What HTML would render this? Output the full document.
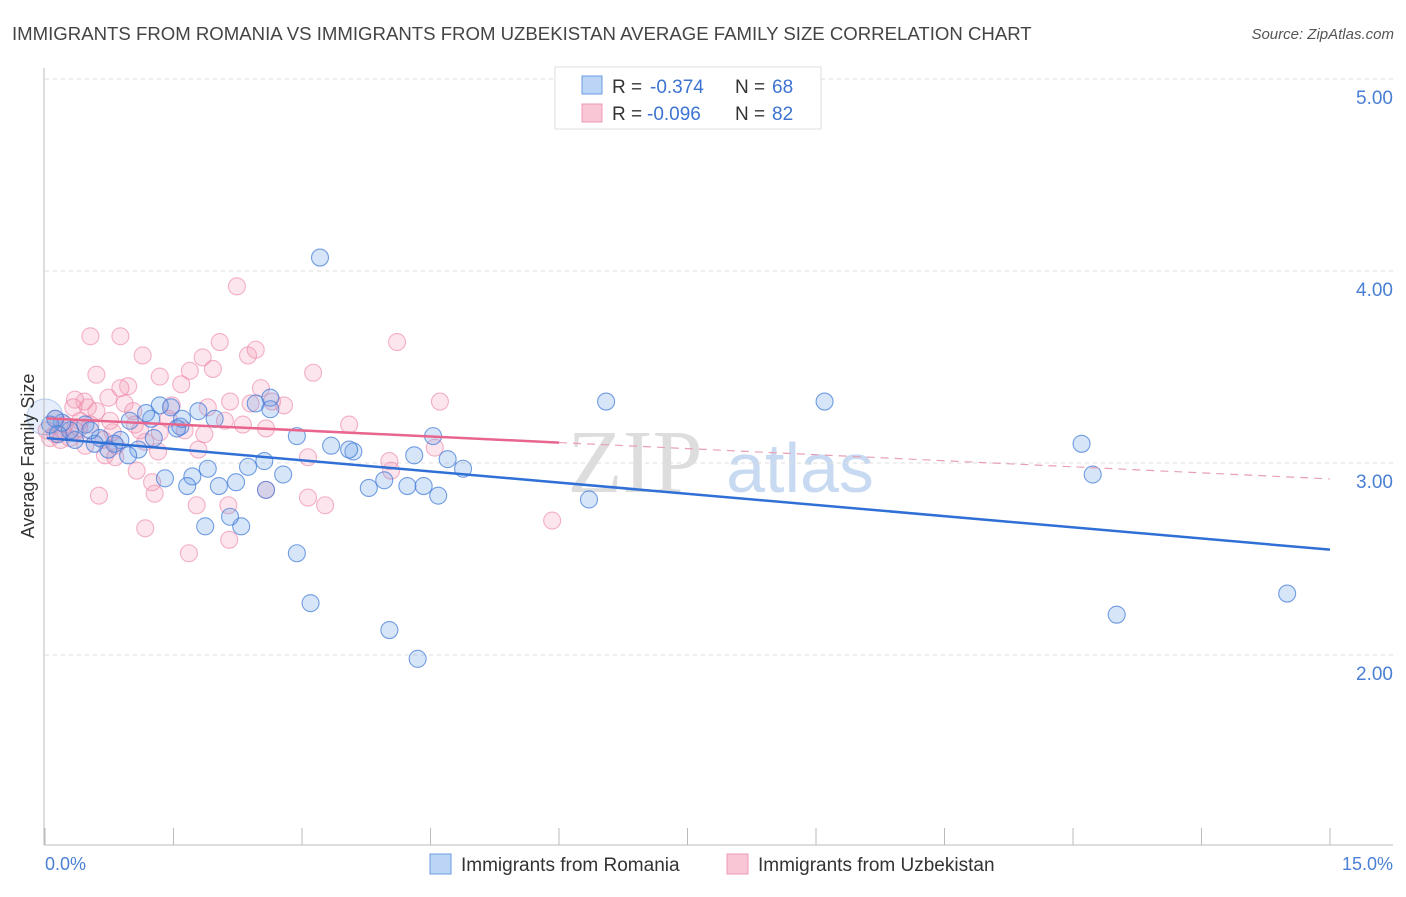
<!DOCTYPE html>
<html><head><meta charset="utf-8"><style>
body{margin:0;background:#fff;font-family:"Liberation Sans",sans-serif}
</style></head><body>
<svg id="c" width="1406" height="892" xmlns="http://www.w3.org/2000/svg">
<text x="12" y="40" font-size="18.6" fill="#444">IMMIGRANTS FROM ROMANIA VS IMMIGRANTS FROM UZBEKISTAN AVERAGE FAMILY SIZE CORRELATION CHART</text>
<text x="1394" y="39" font-size="15" fill="#555" font-style="italic" text-anchor="end">Source: ZipAtlas.com</text>
<text x="635" y="492" font-size="90" fill="#ddd" font-family="Liberation Serif,serif" text-anchor="middle">ZIP</text>
<text x="800" y="492" font-size="70" fill="#c8daf2" text-anchor="middle">atlas</text>
<g id="grid"></g><g id="pts"></g><g id="lines"></g>
<line x1="44" y1="68" x2="44" y2="845" stroke="#bbb"/>
<line x1="44" y1="845" x2="1393" y2="845" stroke="#bbb"/>
<text x="45" y="870" font-size="18" fill="#4a7fd6">0.0%</text>
<text x="1393" y="870" font-size="18" fill="#4a7fd6" text-anchor="end">15.0%</text>
<text transform="translate(34,456) rotate(-90)" font-size="18" fill="#333" text-anchor="middle">Average Family Size</text>
<g>
<rect x="555" y="67" width="266" height="62" fill="#fff" stroke="#ddd"/>
<rect x="582" y="76" width="20" height="18" fill="#bcd4f6" stroke="#6a9be0"/>
<rect x="582" y="104" width="20" height="18" fill="#f9c6d6" stroke="#ee9ab5"/>
<text x="612" y="93" font-size="19" fill="#333">R =</text><text x="650" y="93" font-size="19" fill="#3d74d1">-0.374</text>
<text x="735" y="93" font-size="19" fill="#333">N =</text><text x="772" y="93" font-size="19" fill="#3d74d1">68</text>
<text x="612" y="120" font-size="19" fill="#333">R =</text><text x="647" y="120" font-size="19" fill="#3d74d1">-0.096</text>
<text x="735" y="120" font-size="19" fill="#333">N =</text><text x="772" y="120" font-size="19" fill="#3d74d1">82</text>
</g>
<g><rect x="430" y="854" width="21" height="20" fill="#bcd4f6" stroke="#6a9be0"/><text x="461" y="871" font-size="19" fill="#333">Immigrants from Romania</text></g>
<g><rect x="727" y="854" width="21" height="20" fill="#f9c6d6" stroke="#ee9ab5"/><text x="758" y="871" font-size="19" fill="#333">Immigrants from Uzbekistan</text></g>
</svg>
<script>
const yTicks=[2,3,4,5];
const yTickLabels=["2.00","3.00","4.00","5.00"];
const xTicks=[0,1.5,3,4.5,6,7.5,9,10.5,12,13.5,15];
const romX=[3.21,6.55,9.10,12.10,12.23,14.50,12.51,6.35,4.88,4.70,4.59,4.42,4.23,4.31,4.53,4.02,4.35,3.96,3.78,3.60,3.55,3.34,3.10,2.94,2.94,2.78,2.63,2.58,2.56,2.46,2.37,2.29,2.23,2.16,2.03,1.98,1.90,1.87,1.79,1.72,1.66,1.58,1.54,1.47,1.40,1.34,1.27,1.24,1.18,1.09,0.97,0.88,0.81,0.74,0.64,0.58,0.47,0.35,0.29,0.20,0.12,0.06,0.15,0.53,0.99,1.60,2.63,0.0];
const romY=[4.07,3.32,3.32,3.10,2.94,2.32,2.21,2.81,2.97,3.02,2.83,2.88,2.88,3.04,3.14,2.13,1.98,2.91,2.87,3.06,3.07,3.09,2.27,2.53,3.14,2.94,3.34,2.86,3.01,3.31,2.98,2.67,2.90,2.72,2.88,3.23,2.97,2.67,3.27,2.93,2.88,3.19,3.18,3.29,2.92,3.30,3.13,3.23,3.26,3.07,3.04,3.12,3.10,3.07,3.13,3.10,3.20,3.12,3.17,3.21,3.23,3.20,3.15,3.17,3.22,3.23,3.28,3.24];
const uzbX=[2.24,0.53,0.88,1.14,1.34,1.59,1.84,2.04,1.96,1.69,2.37,2.46,2.52,2.40,2.16,2.79,3.13,4.11,4.61,3.55,4.02,4.04,4.55,5.92,3.07,3.27,2.58,2.15,1.68,1.17,0.63,1.28,1.25,1.07,0.83,0.79,0.68,0.60,0.50,0.46,0.35,0.33,0.41,0.21,0.12,0.06,0.18,0.29,0.47,0.70,0.82,0.93,0.97,1.03,0.74,0.60,1.05,1.17,1.32,1.44,1.48,1.63,1.79,1.86,1.90,2.10,2.31,2.65,2.58,3.07,2.14,1.77,0.12,0.23,0.35,0.02,0.88,1.11,1.34,0.76,0.53,0.40];
const uzbY=[3.92,3.66,3.66,3.56,3.45,3.41,3.55,3.63,3.49,3.48,3.56,3.59,3.39,3.31,3.32,3.30,3.47,3.63,3.32,3.20,3.01,2.96,3.08,2.70,2.82,2.78,2.86,2.60,2.53,2.66,2.83,2.84,2.90,2.96,3.09,3.16,3.12,3.27,3.29,3.32,3.33,3.29,3.22,3.17,3.15,3.13,3.12,3.13,3.09,3.04,3.03,3.31,3.40,3.27,3.34,3.46,3.20,3.11,3.06,3.23,3.30,3.17,3.07,3.15,3.29,3.22,3.20,3.32,3.18,3.03,2.78,2.78,3.23,3.20,3.17,3.17,3.39,3.17,3.16,3.22,3.20,3.18];
const NS="http://www.w3.org/2000/svg";
const xs=v=>45+v/15*1285, ys=v=>79+(5-v)*192;
function mk(t,a,p){const e=document.createElementNS(NS,t);for(const k in a)e.setAttribute(k,a[k]);p.appendChild(e);return e;}
const grid=document.getElementById('grid'),pts=document.getElementById('pts'),lines=document.getElementById('lines'),svg=document.getElementById('c');
yTicks.forEach((v,i)=>{
 const l=mk('line',{x1:45,x2:1393,y1:ys(v),y2:ys(v),stroke:'#ddd','stroke-dasharray':'4,4'},grid);
 
 
 const t=mk('text',{x:1393,y:ys(v)+25,'font-size':19,fill:'#4a7fd6','text-anchor':'end'},svg);
 t.textContent=yTickLabels[i];
 
 
});
xTicks.forEach(v=>{
 const l=mk('line',{x1:xs(v),x2:xs(v),y1:828,y2:845,stroke:'#bbb'},grid);
 
 
});
function draw(X,Y,fill,stroke,name){
 X.forEach((x,i)=>{
  const big=(name==='romania-point'&&i===X.length-1);
  const c=mk('circle',{cx:xs(x),cy:ys(Y[i]),r:big?18:8.5,fill:big?'rgba(110,160,230,0.18)':fill,stroke:big?'rgba(60,120,215,0.3)':stroke,'stroke-width':1.1},pts);
  
  
 });
}
draw(uzbX,uzbY,'rgba(244,160,188,0.28)','rgba(236,130,165,0.6)','uzbekistan-point');
draw(romX,romY,'rgba(110,160,230,0.28)','rgba(60,120,215,0.7)','romania-point');
function fit(X,Y){const n=X.length;let mx=0,my=0;for(let i=0;i<n;i++){mx+=X[i];my+=Y[i];}mx/=n;my/=n;let sxy=0,sxx=0;for(let i=0;i<n;i++){sxy+=(X[i]-mx)*(Y[i]-my);sxx+=(X[i]-mx)**2;}const b=sxy/sxx;return[my-b*mx,b];}
const [ra,rb]=fit(romX,romY),[ua,ub]=fit(uzbX,uzbY);
const rl=mk('line',{x1:xs(0.02),y1:ys(ra+rb*0.02),x2:xs(15),y2:ys(ra+rb*15),stroke:'#2f6fd6','stroke-width':2.5},lines);


const ul=mk('line',{x1:xs(0.02),y1:ys(ua+ub*0.02),x2:xs(6),y2:ys(ua+ub*6),stroke:'#e8658e','stroke-width':2.5},lines);


const ud=mk('line',{x1:xs(6),y1:ys(ua+ub*6),x2:xs(15),y2:ys(ua+ub*15),stroke:'#e8a0b6','stroke-width':1.2,'stroke-dasharray':'8,6'},lines);


</script>
</body></html>
